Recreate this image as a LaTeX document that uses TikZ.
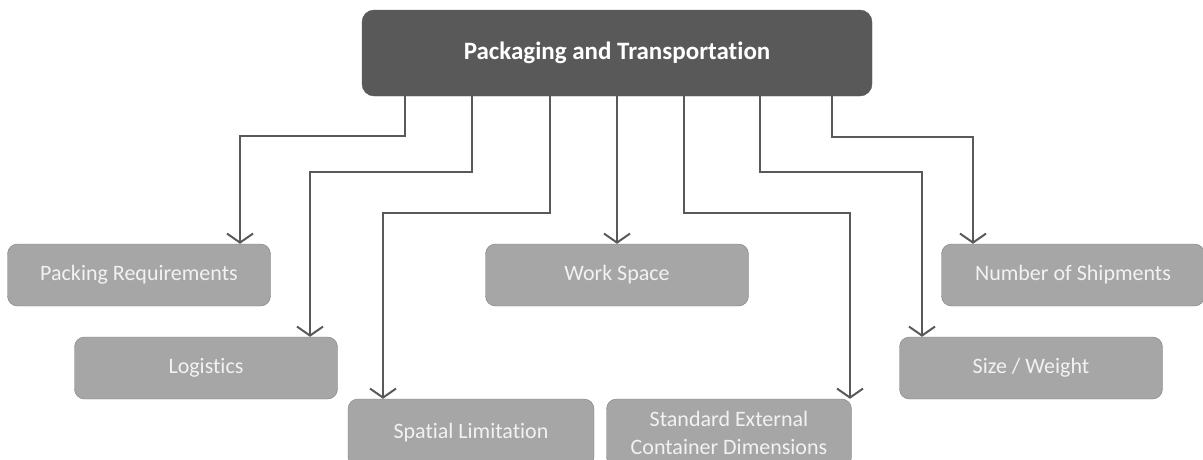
\documentclass[tikz,border=0pt]{standalone}
\usepackage{fontspec}
\setmainfont{Carlito}[Ligatures=NoCommon]
\usepackage{xcolor}
\usetikzlibrary{positioning,arrows.meta}
\definecolor{darkbox}{HTML}{595959}
\definecolor{lightbox}{HTML}{A6A6A6}
\definecolor{boxline}{HTML}{7F7F7F}
\begin{document}
\begin{tikzpicture}[x=1pt, y=-1pt, >={Straight Barb[length=9pt,width=26pt,line width=2pt]}]
  \tikzset{
    head/.style={draw=darkbox,fill=darkbox,rounded corners=12pt,minimum width=510pt,
                 minimum height=86pt,text=white,font=\fontsize{25}{28}\selectfont\bfseries},
    item/.style={draw=boxline,fill=lightbox,rounded corners=10pt,minimum width=263pt,
                 minimum height=62pt,text=white!95!black,font=\fontsize{22}{28}\selectfont,
                 align=center,inner sep=2pt},
    link/.style={draw=darkbox,line width=2.5pt,->}
  }
  \useasboundingbox (0,0) rectangle (1203,459);
  % Top node
  \node[head] (top) at (617,53) {Packaging and Transportation};
  % First row
  \node[item] (pack) at (139,275) {Packing Requirements};
  \node[item] (work) at (617,275) {Work Space};
  \node[item] (ship) at (1073,275) {Number of Shipments};
  % Second row
  \node[item] (logi) at (206,368) {Logistics};
  \node[item] (size) at (1031,368) {Size / Weight};
  % Third row (cut off at the bottom)
  \node[item,minimum width=246pt,minimum height=68pt] (spat) at (471,433) {Spatial Limitation};
  \node[item,minimum width=245pt,minimum height=68pt] (stan) at (729,433) {Standard External\\Container Dimensions};
  % Connectors, left side
  \draw[link] ([xshift=-212pt]top.south) -- ++(0,40) -| ([xshift=101pt]pack.north);
  \draw[link] ([xshift=-145pt]top.south) -- ++(0,76) -| ([xshift=104pt]logi.north);
  \draw[link] ([xshift=-67pt]top.south) -- ++(0,117) -| ([xshift=-88pt]spat.north);
  % Middle
  \draw[link] (top.south) -- (work.north);
  % Connectors, right side
  \draw[link] ([xshift=67pt]top.south) -- ++(0,117) -| ([xshift=121pt]stan.north);
  \draw[link] ([xshift=143pt]top.south) -- ++(0,76) -| ([xshift=-109pt]size.north);
  \draw[link] ([xshift=215pt]top.south) -- ++(0,41) -| ([xshift=-100pt]ship.north);
\end{tikzpicture}
\end{document}
